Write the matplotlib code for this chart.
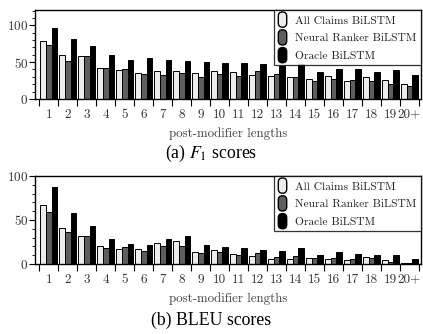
import numpy as np
import matplotlib
matplotlib.use("Agg")
import matplotlib.pyplot as plt
from matplotlib.patches import FancyBboxPatch, Patch
from matplotlib.legend_handler import HandlerPatch
from matplotlib.ticker import MultipleLocator

# データ
lengths = ["1", "2", "3", "4", "5", "6", "7", "8", "9", "10",
           "11", "12", "13", "14", "15", "16", "17", "18", "19", "20+"]
series_names = ["All Claims BiLSTM", "Neural Ranker BiLSTM", "Oracle BiLSTM"]

f1_all = [79, 59.5, 58, 42, 39, 35, 38, 38.5, 35, 37.5,
          36, 32, 31, 30, 27, 31, 24, 29.5, 26, 20]
f1_ranker = [73.5, 52, 58, 42, 41, 34, 33, 35, 30, 34,
             31, 37.5, 34, 29.5, 24, 27, 26, 24.5, 20.5, 17.5]
f1_oracle = [97, 82, 72, 59.5, 53, 55.5, 53.5, 52, 50, 49.5,
             48.5, 47.5, 45, 47, 37, 41, 41, 37, 39, 32]

bleu_all = [66.5, 40.5, 31.5, 20.5, 16.5, 16.5, 24, 25.5, 14, 15.5,
            11.5, 8.5, 6, 5.5, 6.5, 5.5, 4, 7.5, 4, 1.5]
bleu_ranker = [59.5, 36, 31.5, 17.5, 19, 14.5, 20.5, 20.5, 12.5, 13,
               10, 12, 8, 9, 6.5, 7, 5.5, 6.5, 2, 1.5]
bleu_oracle = [88, 58, 43.5, 28, 22.5, 21, 28.5, 31.5, 21.5, 19,
               17.5, 16, 15, 17.5, 10, 13, 11.5, 10, 10.5, 5.5]

colors = ["#ececec", "#5e5e5e", "#000000"]

plt.rcParams["font.family"] = ["cmr10", "DejaVu Serif"]
plt.rcParams["axes.formatter.use_mathtext"] = True
plt.rcParams["mathtext.fontset"] = "stix"


# 角の丸い凡例マーカー
def rounded_box(legend, orig_handle, xdescent, ydescent, width, height, fontsize):
    return FancyBboxPatch((-xdescent + 0.5, -ydescent - 1.5), width - 1, height + 3,
                          boxstyle="round,pad=0,rounding_size=3",
                          facecolor=orig_handle.get_facecolor(),
                          edgecolor="black", linewidth=0.8)


def draw_panel(ax, data, ylim, caption, cap_y):
    x = np.arange(len(lengths))
    w = 0.3
    for i, vals in enumerate(data):
        ax.bar(x + (i - 1) * w, vals, width=w, color=colors[i],
               edgecolor="black", linewidth=0.7)
    ax.set_xlim(-0.72, len(lengths) - 0.4)
    ax.set_ylim(*ylim)
    # グループの境界に目盛り
    ax.set_xticks(np.arange(len(lengths) + 1) - 0.5)
    ax.set_xticklabels([])
    ax.set_xticks(x, minor=True)
    ax.set_xticklabels(lengths, minor=True)
    ax.tick_params(axis="x", which="major", direction="out", length=5, width=0.8)
    ax.tick_params(axis="x", which="minor", length=0, pad=7, labelsize=9.5,
                   labelcolor="#333333")
    ax.yaxis.set_major_locator(MultipleLocator(50))
    ax.yaxis.set_minor_locator(MultipleLocator(10))
    ax.tick_params(axis="y", which="major", direction="out", length=4, width=0.8,
                   labelsize=9.5, labelcolor="#333333", pad=1)
    ax.tick_params(axis="y", which="minor", direction="out", length=2, width=0.6)
    for s in ax.spines.values():
        s.set_linewidth(1.0)
    ax.set_xlabel("post-modifier lengths", fontsize=9.3, color="#444444", labelpad=5)

    handles = [Patch(facecolor=c, edgecolor="black") for c in colors]
    leg = ax.legend(handles, series_names, loc="upper right", borderaxespad=0,
                    fontsize=8.3, fancybox=False, edgecolor="black",
                    handlelength=0.85, handleheight=1.1, handletextpad=0.7,
                    labelspacing=0.55, borderpad=0.35,
                    handler_map={Patch: HandlerPatch(patch_func=rounded_box)})
    leg.get_frame().set_linewidth(0.9)
    for t in leg.get_texts():
        t.set_color("#222222")
    fig.text(0.5, cap_y, caption, ha="center", va="center",
             fontsize=12.8, family="Liberation Serif")


fig = plt.figure(figsize=(4.23, 3.34), dpi=100)
ax1 = fig.add_axes([0.083, 0.704, 0.912, 0.266])
ax2 = fig.add_axes([0.083, 0.210, 0.912, 0.263])

draw_panel(ax1, [f1_all, f1_ranker, f1_oracle], (0, 121), r"(a) $F_1$ scores", 0.540)
draw_panel(ax2, [bleu_all, bleu_ranker, bleu_oracle], (0, 100), "(b) BLEU scores", 0.042)

fig.savefig("out.png", dpi=100)
